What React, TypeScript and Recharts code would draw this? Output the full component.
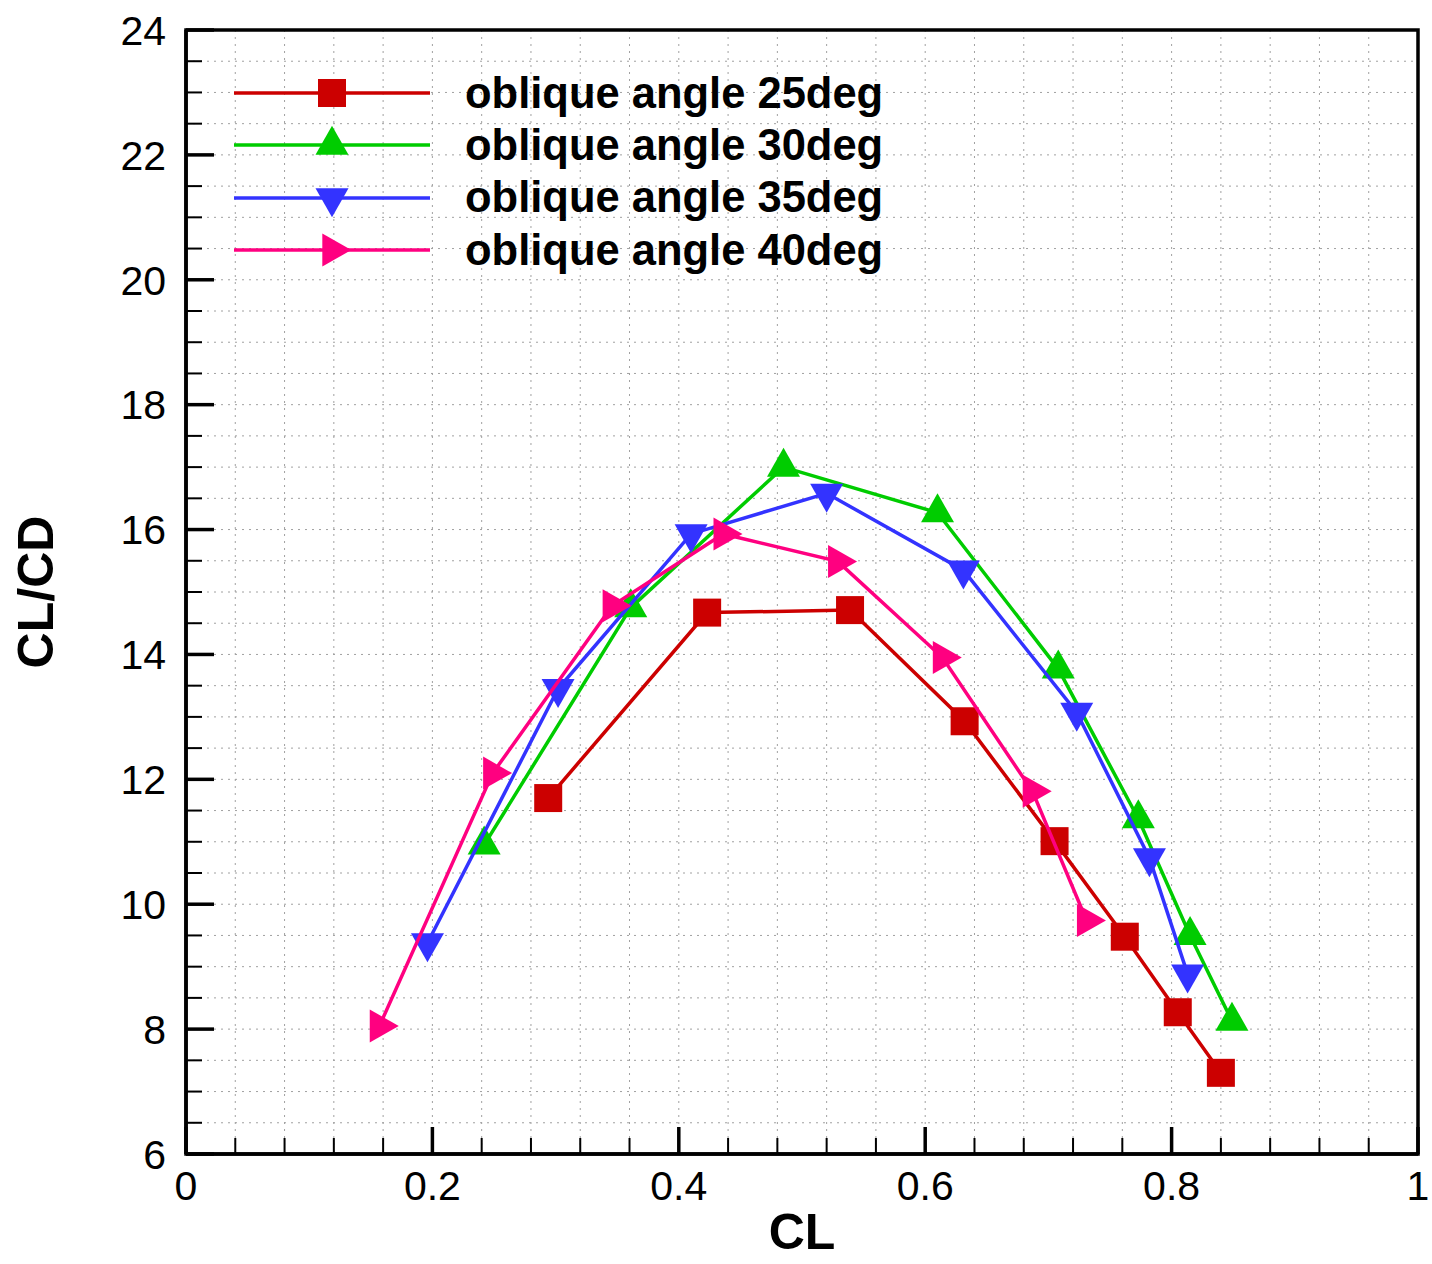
import { CartesianGrid, Legend, ReferenceArea, Scatter, ScatterChart, XAxis, YAxis } from "recharts";

// CL and CL/CD, one pair of arrays per oblique angle
const cl25 = [0.294, 0.423, 0.539, 0.632, 0.705, 0.762, 0.805, 0.840];
const ld25 = [11.70, 14.67, 14.71, 12.93, 11.01, 9.48, 8.27, 7.30];

const cl30 = [0.242, 0.361, 0.485, 0.610, 0.708, 0.773, 0.815, 0.849];
const ld30 = [10.95, 14.75, 17.0, 16.27, 13.77, 11.37, 9.50, 8.13];

const cl35 = [0.196, 0.302, 0.410, 0.520, 0.631, 0.723, 0.782, 0.813];
const ld35 = [9.38, 13.45, 15.93, 16.58, 15.35, 13.07, 10.74, 8.88];

const cl40 = [0.157, 0.249, 0.346, 0.436, 0.529, 0.614, 0.687, 0.731];
const ld40 = [8.05, 12.10, 14.78, 15.93, 15.49, 13.95, 11.81, 9.74];

const seriesNames = ["oblique angle 25deg", "oblique angle 30deg", "oblique angle 35deg", "oblique angle 40deg"];
const seriesColors = ["#cc0000", "#00cc00", "#3333ff", "#ff0080"];
const seriesShapes = ["square", "up", "down", "right"];

const xMajor = [0, 0.2, 0.4, 0.6, 0.8, 1];
const yMajor = [6, 8, 10, 12, 14, 16, 18, 20, 22, 24];

const subdivide = (major: number[], parts: number) => {
  const out: number[] = [];
  major.forEach((m, i) => {
    out.push(m);
    if (i < major.length - 1) {
      const step = (major[i + 1] - m) / parts;
      for (let k = 1; k < parts; k++) out.push(Math.round((m + k * step) * 1000) / 1000);
    }
  });
  return out;
};
const xTicks = subdivide(xMajor, 5);
const yTicks = subdivide(yMajor, 4);

const zip = (xs: number[], ys: number[]) => xs.map((x, i) => ({ cl: x, ld: ys[i] }));
const series = [zip(cl25, ld25), zip(cl30, ld30), zip(cl35, ld35), zip(cl40, ld40)];

const FONT = "'Liberation Sans', Arial, Helvetica, sans-serif";
const isMajor = (v: number, majors: number[]) => majors.some((m) => Math.abs(m - v) < 1e-6);

function Marker({ cx, cy, kind, color }: { cx: number; cy: number; kind: string; color: string }) {
  if (kind === "square") return <rect x={cx - 14} y={cy - 14} width={28} height={28} fill={color} />;
  const w = 33;
  const h = 29;
  let pts = "";
  if (kind === "up") pts = `${cx},${cy - (2 * h) / 3} ${cx - w / 2},${cy + h / 3} ${cx + w / 2},${cy + h / 3}`;
  if (kind === "down") pts = `${cx},${cy + (2 * h) / 3} ${cx - w / 2},${cy - h / 3} ${cx + w / 2},${cy - h / 3}`;
  if (kind === "right") pts = `${cx + (2 * h) / 3},${cy} ${cx - h / 3},${cy - w / 2} ${cx - h / 3},${cy + w / 2}`;
  return <polygon points={pts} fill={color} />;
}

function YTick({ x, y, payload }: any) {
  const ax = x + 20;
  const major = isMajor(payload.value, yMajor);
  return (
    <g>
      <line x1={ax} x2={ax + (major ? 28 : 16)} y1={y} y2={y} stroke="#000" strokeWidth={major ? 3.5 : 2} />
      {major && (
        <text x={x} y={y} dy="0.36em" textAnchor="end" fontFamily={FONT} fontSize={41} fill="#000">
          {payload.value}
        </text>
      )}
    </g>
  );
}

function XTick({ x, y, payload }: any) {
  const ay = y - 31;
  const major = isMajor(payload.value, xMajor);
  return (
    <g>
      <line x1={x} x2={x} y1={ay} y2={ay - (major ? 27 : 16)} stroke="#000" strokeWidth={major ? 3.5 : 2} />
      {major && (
        <text x={x} y={y} dy="0.36em" textAnchor="middle" fontFamily={FONT} fontSize={41} fill="#000">
          {payload.value}
        </text>
      )}
    </g>
  );
}

function LegendBox() {
  return (
    <div style={{ fontFamily: FONT }}>
      {seriesNames.map((name, i) => (
        <div key={name} style={{ display: "flex", alignItems: "center", height: 52.3 }}>
          <svg width={200} height={52} style={{ display: "block" }}>
            <line x1={0} x2={196} y1={26} y2={26} stroke={seriesColors[i]} strokeWidth={3.5} />
            <Marker cx={98} cy={26} kind={seriesShapes[i]} color={seriesColors[i]} />
          </svg>
          <span style={{ marginLeft: 31, fontSize: 43.5, fontWeight: 700, color: "#000", whiteSpace: "nowrap" }}>{name}</span>
        </div>
      ))}
    </div>
  );
}

export default function App() {
  return (
    <div style={{ position: "absolute", left: 0, top: 0, width: 1432, height: 1264, background: "#fff" }}>
      <ScatterChart width={1432} height={1264} margin={{ top: 30, right: 14, bottom: 30, left: 66 }}>
        <CartesianGrid stroke="#a0a0a0" strokeWidth={1} strokeDasharray="2 5" />
        <XAxis
          type="number"
          dataKey="cl"
          domain={[0, 1]}
          ticks={xTicks}
          interval={0}
          allowDataOverflow
          height={80}
          tickSize={0}
          tickMargin={31}
          tickLine={false}
          axisLine={{ stroke: "#000", strokeWidth: 3.5 }}
          tick={<XTick />}
          label={{
            content: (p: any) => (
              <text
                x={p.viewBox.x + p.viewBox.width / 2}
                y={p.viewBox.y + 77}
                dy="0.36em"
                textAnchor="middle"
                fontFamily={FONT}
                fontWeight={700}
                fontSize={50}
                fill="#000"
              >
                CL
              </text>
            ),
          }}
        />
        <YAxis
          type="number"
          dataKey="ld"
          domain={[6, 24]}
          ticks={yTicks}
          interval={0}
          allowDataOverflow
          width={120}
          tickSize={0}
          tickMargin={20}
          tickLine={false}
          axisLine={{ stroke: "#000", strokeWidth: 3.5 }}
          tick={<YTick />}
          label={{
            content: (p: any) => {
              const cx = p.viewBox.x - 31;
              const cy = p.viewBox.y + p.viewBox.height / 2;
              return (
                <text
                  x={cx}
                  y={cy}
                  dy="0.36em"
                  transform={`rotate(-90 ${cx} ${cy})`}
                  textAnchor="middle"
                  fontFamily={FONT}
                  fontWeight={700}
                  fontSize={50}
                  fill="#000"
                >
                  CL/CD
                </text>
              );
            },
          }}
        />
        <ReferenceArea x1={0} x2={1} y1={6} y2={24} fill="none" stroke="#000" strokeWidth={3.5} />
        {series.map((data, i) => (
          <Scatter
            key={seriesNames[i]}
            name={seriesNames[i]}
            data={data}
            fill={seriesColors[i]}
            line={{ stroke: seriesColors[i], strokeWidth: 3.5 }}
            lineType="joint"
            isAnimationActive={false}
            shape={(p: any) => <Marker cx={p.cx} cy={p.cy} kind={seriesShapes[i]} color={seriesColors[i]} />}
          />
        ))}
        <Legend
          layout="horizontal"
          verticalAlign="middle"
          align="center"
          content={() => <LegendBox />}
          wrapperStyle={{ left: 234, top: 67, width: 720 }}
        />
      </ScatterChart>
    </div>
  );
}
